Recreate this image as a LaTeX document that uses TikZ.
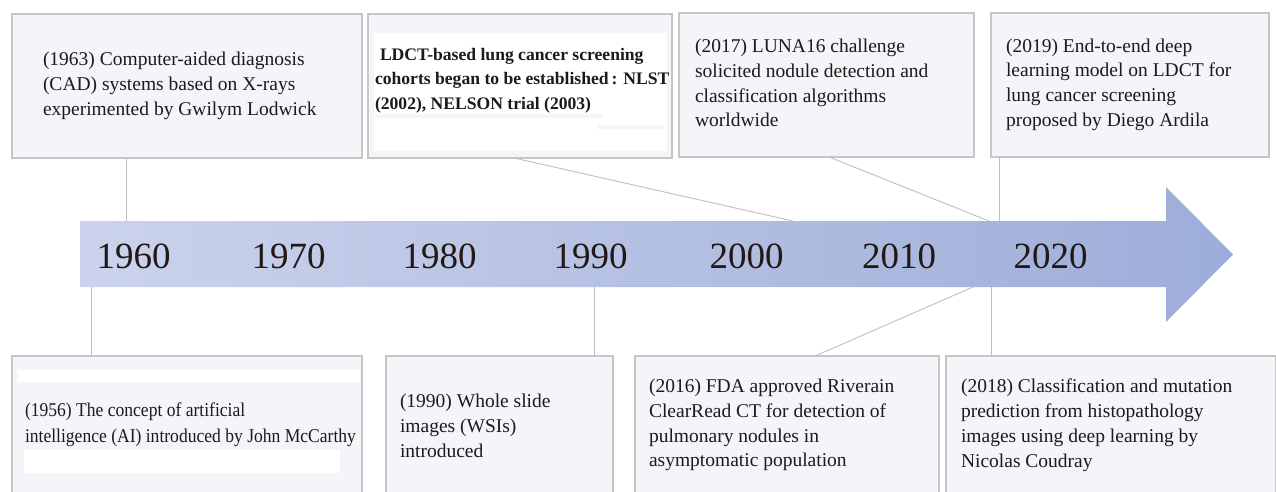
\documentclass[tikz,border=0pt]{standalone}
\usepackage{fontspec}
\setmainfont{Liberation Serif}
\newfontfamily\narrowserif[FakeStretch=0.9]{Liberation Serif}
\definecolor{boxfill}{HTML}{F4F5F8}
\definecolor{boxline}{HTML}{C6C6C6}
\definecolor{connline}{HTML}{BEBEBE}
\definecolor{arrowL}{HTML}{CBD3EC}
\definecolor{arrowR}{HTML}{9DADD9}
\definecolor{ink}{HTML}{1C1A1A}
\definecolor{yearink}{HTML}{231815}
\begin{document}
\begin{tikzpicture}[x=1pt,y=-1pt,
  evbox/.style={draw=boxline, fill=boxfill, line width=1.2pt, rectangle,
    inner sep=0pt, outer sep=0pt, anchor=north west},
  evtext/.style={anchor=north west, inner sep=0pt, outer sep=0pt, align=left,
    text=ink, font=\fontsize{19.5}{24.8}\selectfont,
    execute at begin node={\rule{0pt}{14pt}}},
  evbold/.style={evtext, font=\fontsize{17.6}{24.6}\selectfont\bfseries},
  evnarrow/.style={evtext, font=\fontsize{19.5}{25.5}\selectfont\narrowserif},
  year/.style={anchor=base, inner sep=0pt, text=yearink,
    font=\fontsize{37}{40}\selectfont},
  conn/.style={draw=connline, line width=0.9pt},
  patch/.style={fill=white, draw=none}]
\useasboundingbox (0,0) rectangle (1276,491);

% ---------- attachment points ----------
\coordinate (a1) at (126,221);
\coordinate (a2) at (793,221);
\coordinate (a3) at (989,221);
\coordinate (a4) at (999,221);
\coordinate (c1) at (91,287);
\coordinate (c2) at (594,287);
\coordinate (c3) at (973,287);
\coordinate (c4) at (991,287);
\coordinate (t2o) at (514,158);
\coordinate (t3o) at (829,157);
\coordinate (b3o) at (815,356);

% ---------- boxes ----------
\node[evbox, minimum width=350pt, minimum height=144pt] (t1) at (12,14) {};
\node[evbox, minimum width=304pt, minimum height=144pt] (t2) at (368,14) {};
\node[evbox, minimum width=295pt, minimum height=144pt] (t3) at (679,13) {};
\node[evbox, minimum width=278pt, minimum height=144pt] (t4) at (991,13) {};
\node[evbox, minimum width=350pt, minimum height=137pt] (b1) at (12,356) {};
\node[evbox, minimum width=227pt, minimum height=137pt] (b2) at (386,356) {};
\node[evbox, minimum width=304pt, minimum height=137pt] (b3) at (635,356) {};
\node[evbox, minimum width=330pt, minimum height=137pt] (b4) at (946,356) {};

% white patches seen inside two boxes
\fill[patch] (374,33) rectangle (667,151);
\fill[boxfill] (375,114) rectangle (602,118);
\fill[boxfill] (598,125) rectangle (664,129);
\fill[patch] (18,370) rectangle (360,382);
\fill[patch] (24,450) rectangle (340,473);

% ---------- connectors ----------
\draw[conn] (t1.south -| a1) -- (a1);
\draw[conn] (t2.south -| t2o) -- (a2);
\draw[conn] (t3.south -| t3o) -- (a3);
\draw[conn] (t4.south -| a4) -- (a4);
\draw[conn] (c1) -- (b1.north -| c1);
\draw[conn] (c2) -- (b2.north -| c2);
\draw[conn] (c3) -- (b3.north -| b3o);
\draw[conn] (c4) -- (b4.north -| c4);

% ---------- arrow ----------
\shade[left color=arrowL, right color=arrowR]
  (80,221) -- (1166,221) -- (1166,187) -- (1233,254.5) -- (1166,322)
  -- (1166,287) -- (80,287) -- cycle;

\node[year] (y1960) at (133.5,268) {1960};
\node[year] (y1970) at (288.5,268) {1970};
\node[year] (y1980) at (439.5,268) {1980};
\node[year] (y1990) at (590.5,268) {1990};
\node[year] (y2000) at (746.5,268) {2000};
\node[year] (y2010) at (899,268) {2010};
\node[year] (y2020) at (1050.5,268) {2020};

% ---------- texts ----------
\node[evtext] (t1x) at (43,52) {(1963) Computer-aided diagnosis\\(CAD) systems based on X-rays\\experimented by Gwilym Lodwick};
\node[evbold] (t2x) at (375,48) {\hspace{5pt}LDCT-based lung cancer screening\\cohorts began to be established\,: NLST\\(2002), NELSON trial (2003)};
\node[evtext] (t3x) at (695,39) {(2017) LUNA16 challenge\\solicited nodule detection and\\classification algorithms\\worldwide};
\node[evtext] (t4x) at (1006,38.5) {(2019) End-to-end deep\\learning model on LDCT for\\lung cancer screening\\proposed by Diego Ardila};
\node[evnarrow] (b1x) at (25,403) {(1956) The concept of artificial\\intelligence (AI) introduced by John McCarthy};
\node[evtext] (b2x) at (400,394) {(1990) Whole slide\\images (WSIs)\\introduced};
\node[evtext] (b3x) at (649,379) {(2016) FDA approved Riverain\\ClearRead CT for detection of\\pulmonary nodules in\\asymptomatic population};
\node[evtext] (b4x) at (961,379) {(2018) Classification and mutation\\prediction from histopathology\\images using deep learning by\\Nicolas Coudray};
\end{tikzpicture}
\end{document}
